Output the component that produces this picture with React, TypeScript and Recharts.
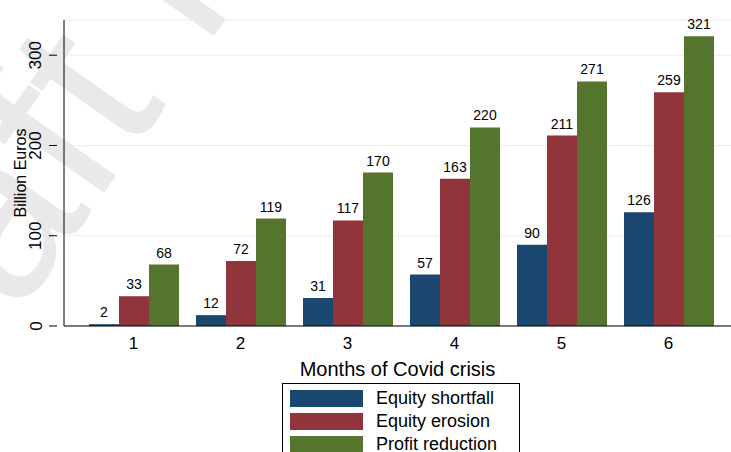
import { Bar, BarChart, CartesianGrid, LabelList, XAxis, YAxis } from 'recharts';

const months = ['1', '2', '3', '4', '5', '6'];
const equityShortfall = [2, 12, 31, 57, 90, 126];
const equityErosion = [33, 72, 117, 163, 211, 259];
const profitReduction = [68, 119, 170, 220, 271, 321];
const yTicks = [0, 100, 200, 300];

const series = [
  { key: 'shortfall', name: 'Equity shortfall', color: '#1a476f' },
  { key: 'erosion', name: 'Equity erosion', color: '#90353b' },
  { key: 'profit', name: 'Profit reduction', color: '#55752f' }
];

const data = months.map((m, i) => ({
  month: m,
  shortfall: equityShortfall[i],
  erosion: equityErosion[i],
  profit: profitReduction[i]
}));

const font = '"Liberation Sans", Arial, Helvetica, sans-serif';

const YTick = (props: any) => {
  const { x, y, payload } = props;
  return (
    <g>
      <line x1={x - 7} x2={x + 1} y1={y} y2={y} stroke="#000" />
      <text
        x={x - 20}
        y={y}
        transform={`rotate(-90 ${x - 20} ${y})`}
        textAnchor="middle"
        dominantBaseline="central"
        fontSize={17}
        fill="#000"
        fontFamily={font}
      >
        {payload.value}
      </text>
    </g>
  );
};

export default function App() {
  return (
    <div style={{ position: 'absolute', left: 0, top: 0, width: 731, height: 452, background: '#fff', overflow: 'hidden', fontFamily: font }}>
      {/* faint watermark behind the plot */}
      <svg width={731} height={452} style={{ position: 'absolute', left: 0, top: 0 }}>
        <text
          x={-125}
          y={520}
          transform="rotate(-55 -125 520)"
          fontSize={235}
          fill="#e9e9e9"
          fontFamily={font}
        >
          Draft not
        </text>
      </svg>
      <div style={{ position: 'absolute', left: 0, top: 0 }}>
        <BarChart
          width={731}
          height={452}
          data={data}
          margin={{ top: 20, right: 0, left: 0, bottom: 96 }}
          barCategoryGap={9}
          barGap={0}
        >
          <CartesianGrid vertical={false} stroke="#e4eeef" />
          <XAxis
            dataKey="month"
            height={30}
            tickLine={false}
            axisLine={{ stroke: '#000' }}
            padding={{ left: 16, right: 9 }}
            tick={{ fill: '#000', fontSize: 17, fontFamily: font }}
            dy={3}
            label={{ value: 'Months of Covid crisis', position: 'bottom', offset: 6, fill: '#000', fontSize: 20, fontFamily: font }}
          />
          <YAxis
            width={64}
            domain={[0, 339]}
            ticks={yTicks}
            tickLine={false}
            axisLine={{ stroke: '#000' }}
            tick={<YTick />}
            label={{ value: 'Billion Euros', angle: -90, position: 'insideLeft', offset: 20, fill: '#000', fontSize: 16, fontFamily: font, style: { textAnchor: 'middle' } }}
          />
          {series.map((s) => (
            <Bar key={s.key} dataKey={s.key} name={s.name} fill={s.color} isAnimationActive={false}>
              <LabelList dataKey={s.key} position="top" offset={7} fill="#000" fontSize={14} fontFamily={font} />
            </Bar>
          ))}
        </BarChart>
      </div>
      <div
        style={{
          position: 'absolute',
          left: 282,
          top: 383,
          width: 236,
          height: 90,
          border: '1px solid #000',
          background: '#fff'
        }}
      >
        {series.map((s, i) => (
          <div key={s.key} style={{ position: 'absolute', left: 7, top: 6 + i * 23, display: 'flex', alignItems: 'center' }}>
            <div style={{ width: 73, height: 17, background: s.color }} />
            <span style={{ marginLeft: 13, fontSize: 18, color: '#000', lineHeight: '17px' }}>{s.name}</span>
          </div>
        ))}
      </div>
    </div>
  );
}
